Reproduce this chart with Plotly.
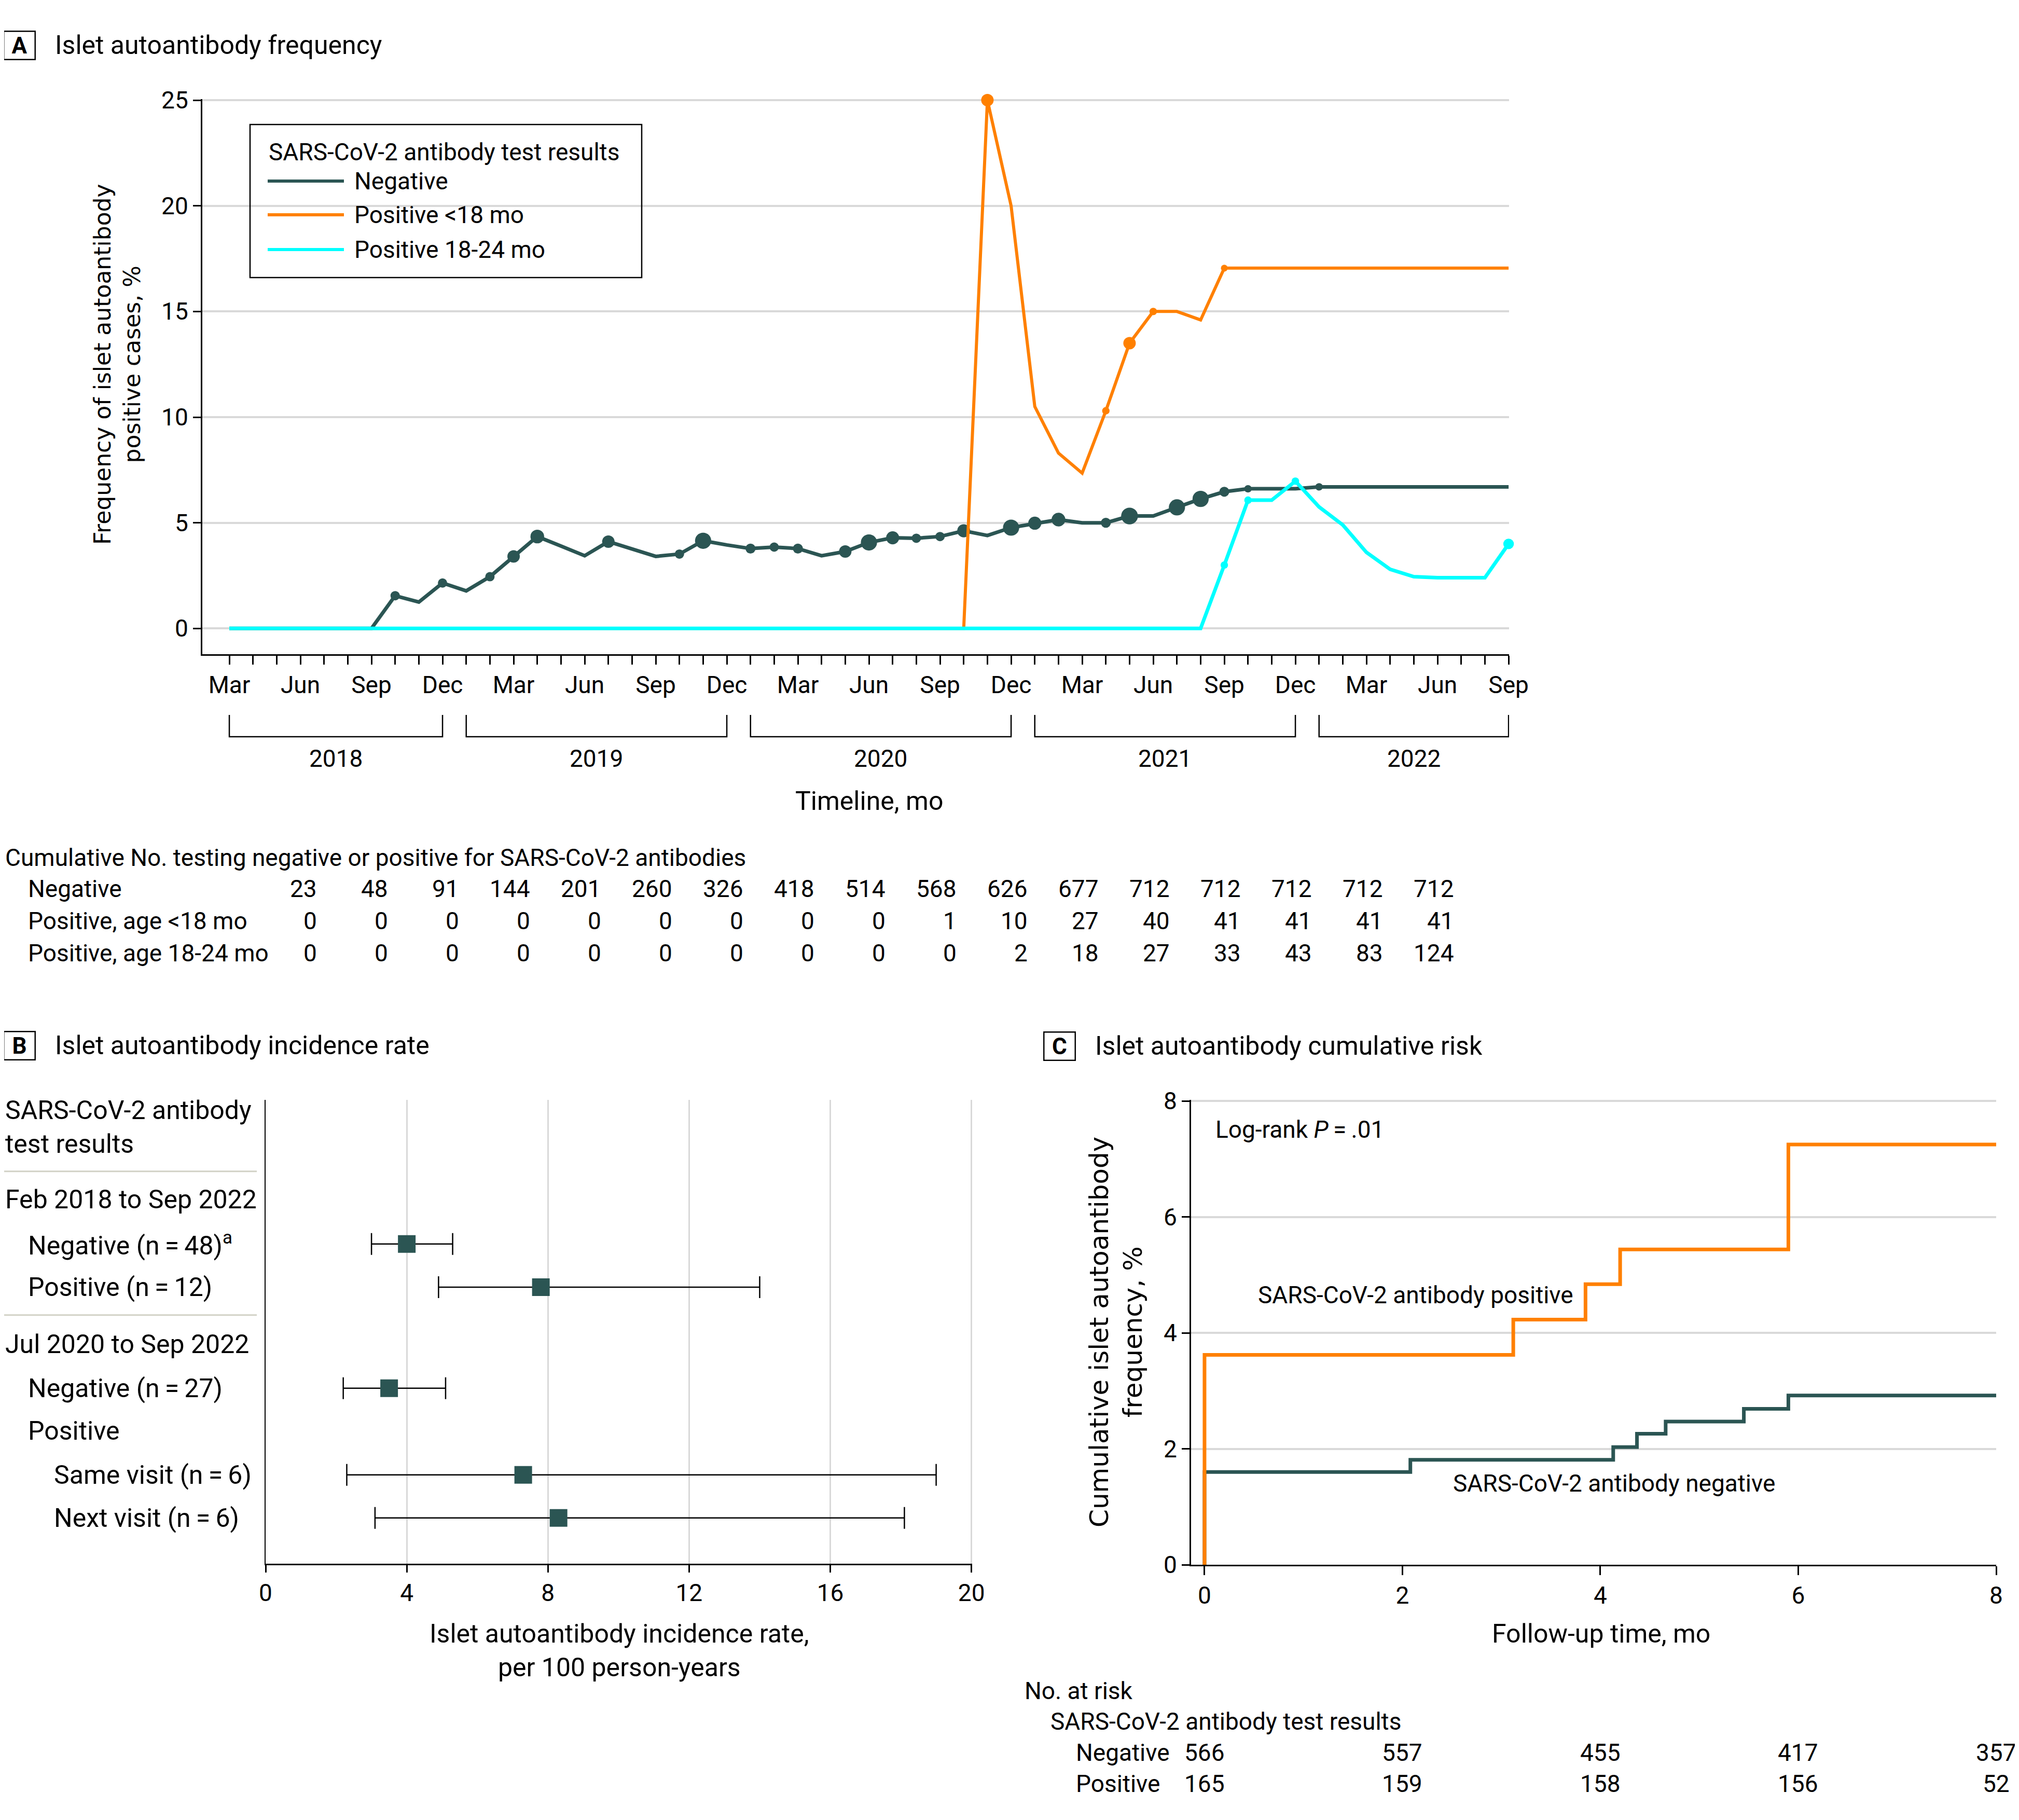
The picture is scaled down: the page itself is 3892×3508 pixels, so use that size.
import numpy as np
import pandas as pd
import plotly.graph_objects as go

W, H = 3892, 3508
OFF = 8  # page body margin in front of the figure
NEG_C = "#2b5553"
POS_C = "#ff8000"
CYAN_C = "#00ffff"
GRID_C = "#d9d9d9"
FONT = "Roboto, 'Open Sans', sans-serif"
WIDE = "DejaVu Sans"

# ---- Panel A: monthly frequency of islet autoantibody positive cases, %
months = pd.period_range("2018-03", "2022-09", freq="M")
neg_freq = [0, 0, 0, 0, 0, 0, 0,
            1.55, 1.25, 2.15, 1.78, 2.45, 3.41, 4.35, 3.9, 3.44, 4.11, 3.77, 3.41, 3.52,
            4.15, 3.95, 3.78, 3.85, 3.78, 3.44, 3.64, 4.07, 4.29, 4.27, 4.35, 4.62, 4.4,
            4.77, 4.98, 5.15, 5.0, 5.0, 5.32, 5.32, 5.73, 6.13, 6.47, 6.61, 6.61, 6.61,
            6.7, 6.7, 6.7, 6.7, 6.7, 6.7, 6.7, 6.7, 6.7]
pos_lt18_freq = [0] * 32 + [25, 20, 10.5, 8.3, 7.35, 10.3, 13.5, 15.0, 15.0, 14.6,
                            17.05, 17.05, 17.05, 17.05, 17.05, 17.05, 17.05, 17.05,
                            17.05, 17.05, 17.05, 17.05, 17.05]
pos_1824_freq = [0] * 42 + [3.0, 6.07, 6.07, 6.97, 5.75, 4.9, 3.6, 2.8, 2.45, 2.4,
                            2.4, 2.4, 4.0]

# dot sizes (month index -> px), months without a dot have none
neg_dots = {7: 15, 9: 15, 11: 15, 12: 20, 13: 22, 16: 20, 19: 15, 20: 26, 22: 16,
            23: 15, 24: 16, 26: 20, 27: 26, 28: 21, 29: 15, 30: 15, 31: 21, 33: 26,
            34: 21, 35: 22, 37: 16, 38: 27, 40: 26, 41: 26, 42: 16, 43: 12, 46: 12}
pos_lt18_dots = {32: 20, 37: 12, 38: 20, 39: 12, 42: 11}
pos_1824_dots = {42: 12, 43: 12, 45: 12, 54: 17}

table_months = ["2018-06", "2018-09", "2018-12", "2019-03", "2019-06", "2019-09",
                "2019-12", "2020-03", "2020-06", "2020-09", "2020-12", "2021-03",
                "2021-06", "2021-09", "2021-12", "2022-03", "2022-06"]
cum_neg = [23, 48, 91, 144, 201, 260, 326, 418, 514, 568, 626, 677, 712, 712, 712, 712, 712]
cum_pos_lt18 = [0, 0, 0, 0, 0, 0, 0, 0, 0, 1, 10, 27, 40, 41, 41, 41, 41]
cum_pos_1824 = [0, 0, 0, 0, 0, 0, 0, 0, 0, 0, 2, 18, 27, 33, 43, 83, 124]

# ---- Panel B: incidence rate per 100 person-years
b_est = [4.0, 7.8, 3.5, 7.3, 8.3]
b_lo = [3.0, 4.9, 2.2, 2.3, 3.1]
b_hi = [5.3, 14.0, 5.1, 19.0, 18.1]

# ---- Panel C: cumulative risk
km_pos_t = [0, 0, 3.12, 3.85, 4.2, 5.9, 8]
km_pos_y = [0, 3.62, 4.23, 4.84, 5.44, 7.25, 7.25]
km_neg_t = [0, 0, 2.08, 4.13, 4.37, 4.66, 5.45, 5.9, 8]
km_neg_y = [0, 1.6, 1.81, 2.03, 2.26, 2.47, 2.69, 2.92, 2.92]
risk_times = [0, 2, 4, 6, 8]
risk_neg = [566, 557, 455, 417, 357]
risk_pos = [165, 159, 158, 156, 52]


def px(x):
    return max(0.0, (x - OFF) / W)


def py(y):
    return 1 - (y - OFF) / H


annotations = []
shapes = []


def txt(s, x, y, size=46, anchor="left", xref="paper", yref="paper", family=FONT, **kw):
    annotations.append(dict(
        text=s, x=px(x) if xref == "paper" else x, y=py(y) if yref == "paper" else y,
        xref=xref, yref=yref, xanchor=anchor, yanchor="middle", showarrow=False,
        font=dict(size=size, family=family, color="black"), **kw))


def panel_box(letter, cx, cy):
    annotations.append(dict(
        text=f"<b>{letter}</b>", x=px(cx), y=py(cy), xref="paper", yref="paper",
        xanchor="center", yanchor="middle", showarrow=False, width=58, height=52,
        bordercolor="black", borderwidth=2.5, borderpad=0,
        font=dict(size=44, family=FONT, color="black")))


def dot_sizes(d, n, scale=1.2):
    return [d.get(i, 0) * scale for i in range(n)]


fig = go.Figure()
m = np.arange(len(months))

# ================= Panel A
for ys, col, lw, dots in [(neg_freq, NEG_C, 7, neg_dots),
                          (pos_lt18_freq, POS_C, 6, pos_lt18_dots),
                          (pos_1824_freq, CYAN_C, 7, pos_1824_dots)]:
    fig.add_trace(go.Scatter(x=m, y=ys, mode="lines+markers", cliponaxis=False,
                             line=dict(color=col, width=lw),
                             marker=dict(size=dot_sizes(dots, len(m)), color=col,
                                         opacity=1, line_width=0),
                             xaxis="x", yaxis="y", showlegend=False))

label_idx = [i for i in m if i % 3 == 0]
label_txt = [months[i].strftime("%b") for i in label_idx]

panel_box("A", 37, 88)
txt("Islet autoantibody frequency", 104, 87, size=50)

# legend
shapes.append(dict(type="rect", xref="paper", yref="paper", x0=px(482), x1=px(1237),
                   y0=py(240), y1=py(535), line=dict(color="black", width=2.5)))
txt("SARS-CoV-2 antibody test results", 516, 293)
for lab, col, yy in [("Negative", NEG_C, 349), ("Positive &lt;18 mo", POS_C, 414),
                     ("Positive 18-24 mo", CYAN_C, 481)]:
    shapes.append(dict(type="line", xref="paper", yref="paper", x0=px(516), x1=px(663),
                       y0=py(yy), y1=py(yy), line=dict(color=col, width=6)))
    txt(lab, 681, yy)

# year brackets
for yr in sorted(set(p.year for p in months)):
    idx = [i for i, p in enumerate(months) if p.year == yr]
    a, b = idx[0], idx[-1]
    shapes.append(dict(type="path", xref="x", yref="paper",
                       path=f"M {a},{py(1378)} L {a},{py(1420)} L {b},{py(1420)} L {b},{py(1378)}",
                       line=dict(color="black", width=2.5)))
    txt(str(yr), (a + b) / 2, 1462, anchor="center", xref="x")

txt("Timeline, mo", 1675, 1544, size=50, anchor="center")
txt("Frequency of islet autoantibody<br>positive cases, %", 226, 702, size=44,
    anchor="center", family=WIDE, textangle=-90)

# cumulative table
txt("Cumulative No. testing negative or positive for SARS-CoV-2 antibodies", 0, 1653)
col_idx = [months.get_loc(pd.Period(s, freq="M")) for s in table_months]
for lab, vals, yy in [("Negative", cum_neg, 1713),
                      ("Positive, age &lt;18 mo", cum_pos_lt18, 1775),
                      ("Positive, age 18-24 mo", cum_pos_1824, 1837)]:
    txt(lab, 52, yy)
    for ci, v in zip(col_idx, vals):
        txt(str(v), ci + 0.75, yy, anchor="right", xref="x")

# ================= Panel B
b_rows = [("Feb 2018 to Sep 2022", 0, 0.0),
          ("Negative (n\u2009=\u200948)<sup>a</sup>", 1, 1.02),
          ("Positive (n\u2009=\u200912)", 1, 2.01),
          ("Jul 2020 to Sep 2022", 0, 3.32),
          ("Negative (n\u2009=\u200927)", 1, 4.33),
          ("Positive", 1, 5.31),
          ("Same visit (n\u2009=\u20096)", 2, 6.32),
          ("Next visit (n\u2009=\u20096)", 2, 7.31)]
b_data_rows = [1.02, 2.01, 4.33, 6.32, 7.31]

fig.add_trace(go.Scatter(
    x=b_est, y=b_data_rows, mode="markers", xaxis="x2", yaxis="y2", showlegend=False,
    marker=dict(symbol="square", size=34, color=NEG_C, opacity=1),
    error_x=dict(type="data", symmetric=False,
                 array=[h - e for h, e in zip(b_hi, b_est)],
                 arrayminus=[e - l for e, l in zip(b_est, b_lo)],
                 color="black", thickness=2.5, width=21)))

panel_box("B", 37, 2015)
txt("Islet autoantibody incidence rate", 104, 2015, size=50)
txt("SARS-CoV-2 antibody<br>test results", 2, -1.67, size=50, yref="y2", align="left")
for lab, ind, yy in b_rows:
    txt(lab, 2 + 50 * ind, yy, size=50, yref="y2")
for yy in [-0.65, 2.65]:
    shapes.append(dict(type="line", xref="paper", yref="y2", x0=0, x1=px(495),
                       y0=yy, y1=yy, line=dict(color="#d2d2c6", width=3)))
txt("Islet autoantibody incidence rate,<br>per 100 person-years", 1194, 3181,
    size=50, anchor="center")

# ================= Panel C
fig.add_trace(go.Scatter(x=km_neg_t, y=km_neg_y, mode="lines", line_shape="hv",
                         line=dict(color=NEG_C, width=7), xaxis="x3", yaxis="y3",
                         showlegend=False, cliponaxis=False))
fig.add_trace(go.Scatter(x=km_pos_t, y=km_pos_y, mode="lines", line_shape="hv",
                         line=dict(color=POS_C, width=7), xaxis="x3", yaxis="y3",
                         showlegend=False, cliponaxis=False))

panel_box("C", 2042, 2016)
txt("Islet autoantibody cumulative risk", 2109, 2016, size=50)
txt("Log-rank <i>P</i>\u2009=\u2009.01", 2341, 2177)
txt("SARS-CoV-2 antibody positive", 3035, 2496, anchor="right")
txt("SARS-CoV-2 antibody negative", 2799, 2859)
txt("Follow-up time, mo", 3086, 3149, size=50, anchor="center")
txt("Cumulative islet autoantibody<br>frequency, %", 2151, 2568, size=50,
    anchor="center", family=WIDE, textangle=-90)

txt("No. at risk", 1973, 3259)
txt("SARS-CoV-2 antibody test results", 2023, 3318)
for lab, vals, yy in [("Negative", risk_neg, 3378), ("Positive", risk_pos, 3438)]:
    txt(lab, 2072, yy)
    for t, v in zip(risk_times, vals):
        txt(str(v), t, yy, anchor="center", xref="x3")

axis_common = dict(tickfont=dict(size=46, family=FONT, color="black"), ticks="outside",
                   tickcolor="black", tickwidth=3, zeroline=False, linecolor="black",
                   automargin=False, tickangle=0)

fig.update_layout(
    template="none",
    width=W, height=H, margin=dict(l=0, r=0, t=0, b=0, pad=0), autosize=False,
    paper_bgcolor="white", plot_bgcolor="white",
    font=dict(family=FONT, color="black"),
    xaxis=dict(domain=[px(390), px(2909)], range=[-1.14, 54.02], anchor="y",
               tickvals=label_idx, ticktext=label_txt, ticklen=17, showline=True,
               linewidth=3, showgrid=False,
               minor=dict(tickvals=list(m), ticks="outside", ticklen=17, tickwidth=3,
                          tickcolor="black", showgrid=False),
               **axis_common),
    yaxis=dict(domain=[py(1261), py(191)], range=[-1.22, 25.05], anchor="x",
               tickvals=[0, 5, 10, 15, 20, 25], ticklen=15, showline=True, linewidth=3,
               showgrid=True, gridcolor=GRID_C, gridwidth=4, **axis_common),
    xaxis2=dict(domain=[px(512), px(1874)], range=[0, 20.02], anchor="y2",
                tickvals=[0, 4, 8, 12, 16, 20], ticklen=14, showline=True, linewidth=3,
                showgrid=True, gridcolor=GRID_C, gridwidth=3, **axis_common),
    yaxis2=dict(domain=[py(3014), py(2120)], range=[8.36, -2.29], anchor="x2",
                showticklabels=False, showgrid=False, zeroline=False, showline=True,
                linecolor="black", linewidth=2, ticks="", automargin=False),
    xaxis3=dict(domain=[px(2296), px(3848)], range=[-0.136, 8.0], anchor="y3",
                tickvals=[0, 2, 4, 6, 8], ticklen=17, showline=True, linewidth=3,
                showgrid=False, **axis_common),
    yaxis3=dict(domain=[py(3016), py(2120)], range=[0, 8.02], anchor="x3",
                tickvals=[0, 2, 4, 6, 8], ticklen=15, showline=True, linewidth=3,
                showgrid=True, gridcolor=GRID_C, gridwidth=4, **axis_common),
    annotations=annotations, shapes=shapes,
)

fig.write_html("out.html")
